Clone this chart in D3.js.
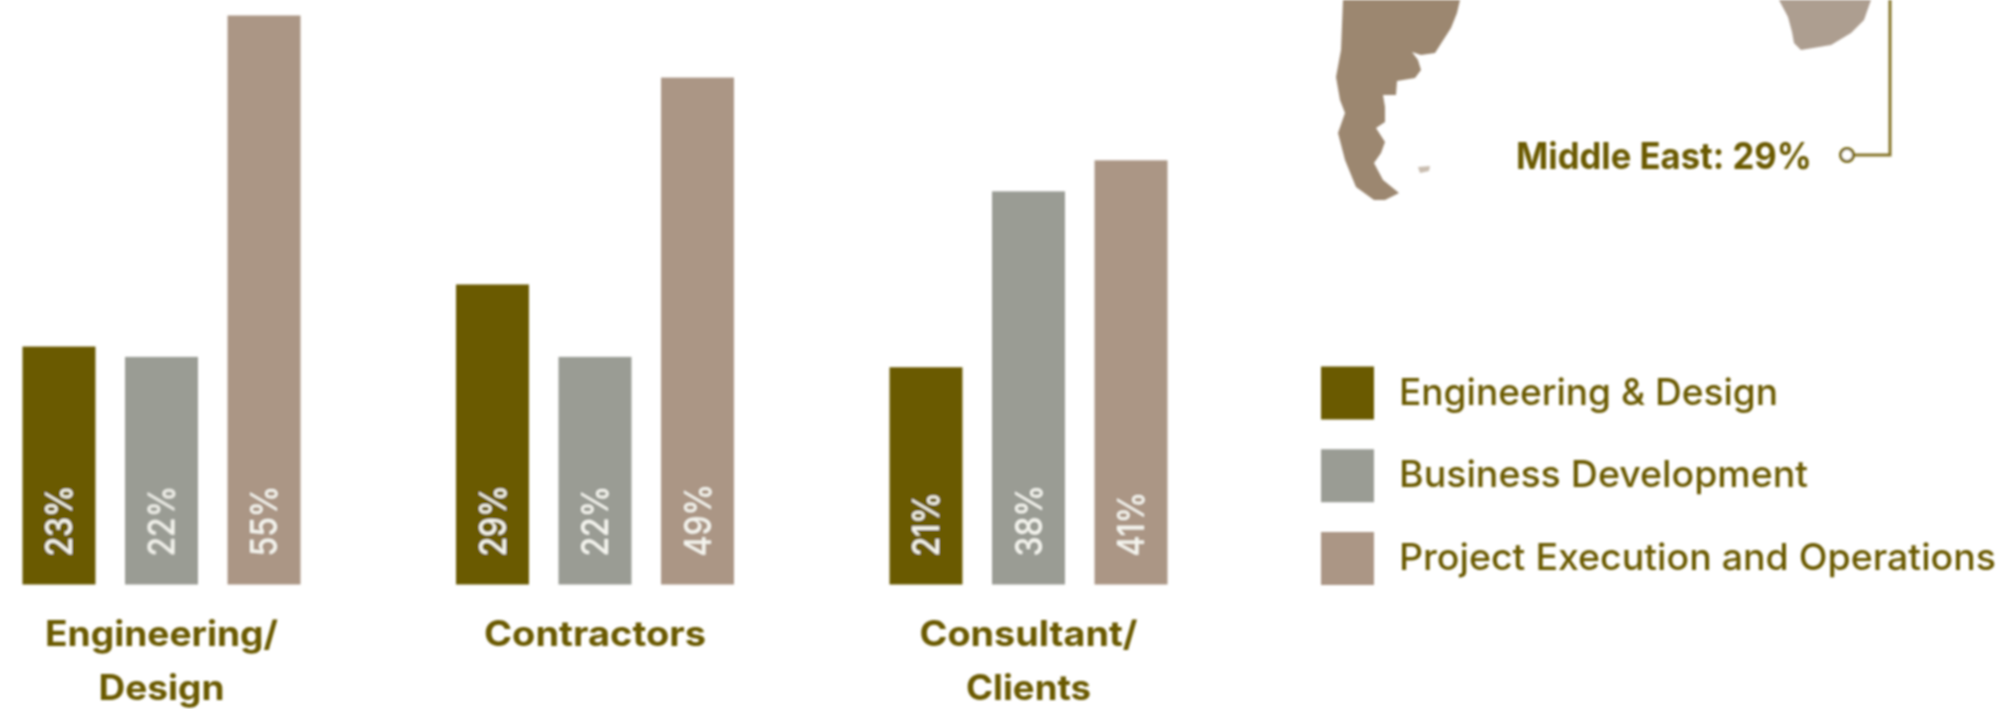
<!DOCTYPE html>
<html>
<head>
<meta charset="utf-8">
<script src="https://cdn.jsdelivr.net/npm/d3@7"></script>
<style>
  html, body { margin: 0; padding: 0; background: #fff; }
  svg { display: block; }
  text { font-family: Inter, "Noto Sans", sans-serif; }
</style>
</head>
<body>
<svg id="chart" width="2005" height="709"></svg>
<script>
const categories = ['Engineering/Design', 'Contractors', 'Consultant/Clients'];
const categoryLines = [['Engineering/', 'Design'], ['Contractors'], ['Consultant/', 'Clients']];
const series = ['Engineering & Design', 'Business Development', 'Project Execution and Operations'];
const engineeringValues = [23, 29, 21];
const businessValues = [22, 22, 38];
const projectValues = [55, 49, 41];
const seriesValues = [engineeringValues, businessValues, projectValues];
const seriesColors = ['#6b5a00', '#9a9c94', '#ab9685'];
const calloutText = 'Middle East: 29%';

// rendered widths of the labels, the original face (Poppins) is not installed
const labelWidths = {
    'Engineering/': 233, 'Design': 126, 'Contractors': 222, 'Consultant/': 218, 'Clients': 125,
    'Engineering & Design': 379, 'Business Development': 409, 'Project Execution and Operations': 597,
    'Middle East: 29%': 296
};

// map fragments behind the callout, outlines traced by hand
const southAmerica = [[1343, 0], [1460, 0], [1457, 13], [1451, 28], [1442, 42], [1435, 53], [1421, 55], [1412, 52],
    [1418, 60], [1421, 70], [1415, 78], [1397, 81], [1396, 95], [1383, 95], [1385, 107], [1385, 122], [1376, 128],
    [1385, 142], [1381, 153], [1374, 163], [1383, 180], [1399, 193], [1385, 200], [1374, 200], [1356, 187],
    [1345, 160], [1338, 133], [1345, 113], [1340, 100], [1336, 77], [1341, 50]];
const falklands = [[1418, 167], [1430, 166], [1429, 171], [1420, 173]];
const southAfrica = [[1779, 0], [1788, 17], [1792, 32], [1794, 43], [1801, 50], [1831, 45], [1851, 33], [1864, 20], [1871, 0]];

const svg = d3.select('#chart');
const defs = svg.append('defs');
defs.append('filter').attr('id', 'soft').append('feGaussianBlur').attr('stdDeviation', 1);

const g = svg.append('g').attr('filter', 'url(#soft)');

const x0 = d3.scaleBand().domain(categories).range([22.5, 22.5 + 433.5 * 3]);
const x1 = d3.scaleBand().domain(series).range([0, 278]).paddingInner(0.2883);
const y = d3.scaleLinear().domain([0, 55]).range([584.5, 15.5]);

function fit(sel) {
    sel.attr('textLength', d => labelWidths[d]).attr('lengthAdjust', 'spacingAndGlyphs');
}

// 막대
series.forEach((name, s) => {
    seriesValues[s].forEach((value, c) => {
        const bx = x0(categories[c]) + x1(name);
        g.append('rect')
            .attr('x', bx)
            .attr('y', y(value))
            .attr('width', x1.bandwidth())
            .attr('height', y(0) - y(value))
            .attr('fill', seriesColors[s]);
        g.append('text')
            .text(value + '%')
            .attr('transform', `translate(${bx + x1.bandwidth() / 2},${y(0) - 28}) rotate(-90) scale(0.86,1)`)
            .attr('dominant-baseline', 'central')
            .attr('fill', '#f4f4ee')
            .attr('font-size', 37)
            .attr('font-weight', 500);
    });
});

// 카테고리 라벨
categories.forEach((cat, c) => {
    const cx = x0(cat) + 139;
    categoryLines[c].forEach((line, i) => {
        g.append('text')
            .datum(line)
            .text(line)
            .attr('x', cx)
            .attr('y', 646 + i * 54)
            .attr('text-anchor', 'middle')
            .attr('fill', '#6b5a00')
            .attr('font-size', 35)
            .attr('font-weight', 700)
            .call(fit);
    });
});

// 범례
const legendY = d3.scalePoint().domain(series).range([366.5, 532]);
series.forEach((name, s) => {
    g.append('rect')
        .attr('x', 1321)
        .attr('y', legendY(name))
        .attr('width', 53)
        .attr('height', 53)
        .attr('fill', seriesColors[s]);
    g.append('text')
        .datum(name)
        .text(name)
        .attr('x', 1399)
        .attr('y', legendY(name) + 38)
        .attr('fill', '#6b5a00')
        .attr('font-size', 37)
        .attr('font-weight', 500)
        .call(fit);
});

// 지도 조각
const outline = d3.line().curve(d3.curveLinearClosed);
g.append('path').attr('d', outline(southAmerica)).attr('fill', '#9c8770');
g.append('path').attr('d', outline(falklands)).attr('fill', '#c9bdb0');
g.append('path').attr('d', outline(southAfrica)).attr('fill', '#ad9e90');

// 콜아웃
g.append('text')
    .datum(calloutText)
    .text(calloutText)
    .attr('x', 1516)
    .attr('y', 169)
    .attr('fill', '#6b5a00')
    .attr('font-size', 37)
    .attr('font-weight', 700)
    .call(fit);
g.append('path')
    .attr('d', d3.line()([[1853, 155], [1890, 155], [1890, 0]]))
    .attr('fill', 'none')
    .attr('stroke', '#85752a')
    .attr('stroke-width', 3);
g.append('circle')
    .attr('cx', 1847)
    .attr('cy', 155)
    .attr('r', 6.5)
    .attr('fill', '#fff')
    .attr('stroke', '#7a6a14')
    .attr('stroke-width', 3);
</script>
</body>
</html>
